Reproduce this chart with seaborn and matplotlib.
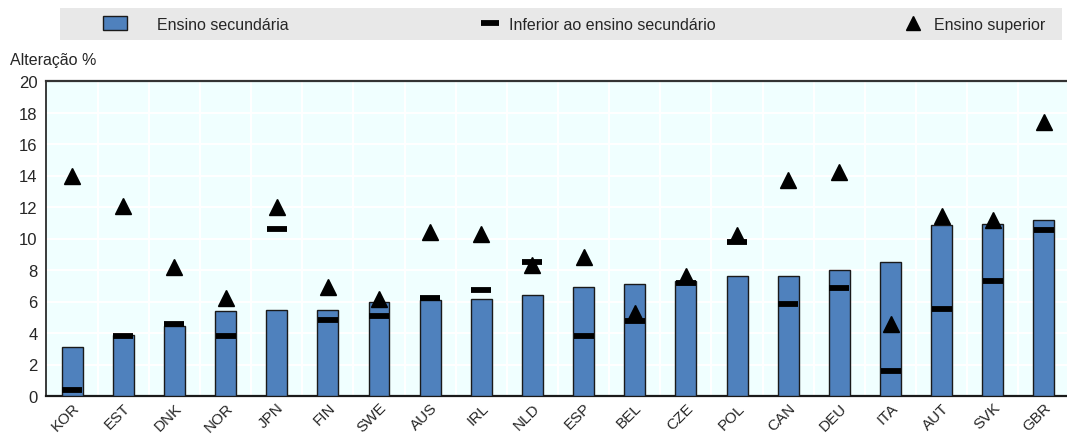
import numpy as np
import pandas as pd
import matplotlib
matplotlib.use("Agg")
import matplotlib.pyplot as plt
from matplotlib.patches import Rectangle, Patch
from matplotlib.lines import Line2D
import seaborn as sns

sns.set_theme(style="white")
plt.rcParams["font.family"] = ["Liberation Sans Narrow", "Liberation Sans", "DejaVu Sans"]

countries = ["KOR", "EST", "DNK", "NOR", "JPN", "FIN", "SWE", "AUS", "IRL", "NLD",
             "ESP", "BEL", "CZE", "POL", "CAN", "DEU", "ITA", "AUT", "SVK", "GBR"]
upper_secondary = [3.08, 3.88, 4.45, 5.37, 5.43, 5.45, 5.98, 6.1, 6.15, 6.42,
                   6.95, 7.1, 7.31, 7.59, 7.61, 7.99, 8.48, 10.87, 10.9, 11.15]
below_secondary = [0.36, 3.8, 4.6, 3.8, 10.6, 4.83, 5.05, 6.2, 6.7, 8.48,
                   3.84, 4.77, 7.2, 9.79, 5.87, 6.83, 1.57, 5.55, 7.33, 10.53]
tertiary = [14.0, 12.06, 8.2, 6.2, 12.0, 6.9, 6.15, 10.4, 10.3, 8.33,
            8.8, 5.3, 7.6, 10.2, 13.7, 14.2, 4.6, 11.44, 11.19, 17.4]

labels = ["Ensino secundária", "Inferior ao ensino secundário", "Ensino superior"]

df = pd.DataFrame({"pais": countries, "sec": upper_secondary,
                   "inf": below_secondary, "sup": tertiary})

W, H = 1067, 435
fig = plt.figure(figsize=(W / 100, H / 100), dpi=100)
ax = fig.add_axes([46 / W, 1 - 397 / H, (1067 - 46) / W, (397 - 82) / H])
ax.set_facecolor("#F0FFFF")

bar_color = "#4F81BD"
sns.barplot(data=df, x="pais", y="sec", ax=ax, color=bar_color, width=0.41,
            edgecolor="#1a1a1a", linewidth=1.0, saturation=1, zorder=3)

pos = np.arange(len(countries))
ax.plot(pos, df["inf"], linestyle="none", marker="_", markersize=14,
        markeredgewidth=4.2, color="black", zorder=4)
ax.plot(pos, df["sup"], linestyle="none", marker="^", markersize=11,
        color="black", zorder=5)

ax.set_xlim(-0.51, len(countries) - 1 + 0.45)
ax.set_ylim(0, 20)
ax.set_yticks(np.arange(0, 21, 2))
ax.set_xlabel("")
ax.set_ylabel("")

# white grid: horizontal at each y tick, vertical at category boundaries
ax.set_xticks(pos)
ax.set_xticklabels(countries, rotation=45, ha="right", rotation_mode="anchor")
ax.set_xticks(pos[:-1] + 0.5, minor=True)
for y in np.arange(2, 20, 2):
    ax.axhline(y, color="white", linewidth=1.5, zorder=1)
for xb in pos[:-1] + 0.5:
    ax.axvline(xb, color="white", linewidth=1.5, zorder=1)
ax.grid(False)

ax.tick_params(axis="x", which="major", length=0, labelsize=11, pad=3)
ax.tick_params(axis="x", which="minor", direction="in", length=4, width=1.2,
               color="#222222", bottom=True)
ax.tick_params(axis="y", length=0, labelsize=12, pad=6)

for side in ["left", "bottom", "top"]:
    ax.spines[side].set_visible(True)
    ax.spines[side].set_color("#1a1a1a")
ax.spines["left"].set_linewidth(1.2)
ax.spines["bottom"].set_linewidth(1.6)
ax.spines["top"].set_linewidth(1.6)
ax.spines["top"].set_color("#333333")
ax.spines["right"].set_visible(False)

fig.text(10 / W, 1 - 60 / H, "Alteração %", fontsize=11.5, va="center", ha="left")

# legend band with three entries spread across it
fig.patches.append(Rectangle((60 / W, 1 - 41 / H), 1002 / W, 32 / H,
                             transform=fig.transFigure, facecolor="#E8E8E8",
                             edgecolor="none", zorder=0))
handles = [
    Patch(facecolor=bar_color, edgecolor="#1a1a1a", linewidth=1.0),
    Line2D([], [], linestyle="none", marker="_", markersize=13,
           markeredgewidth=4.2, color="black"),
    Line2D([], [], linestyle="none", marker="^", markersize=10, color="black"),
]
fs = 11.5
em = fs * 100 / 72
specs = [(103, 24, 157), (476, 27, 509), (903, 20, 934)]
for h, lab, (x0, hl, tx) in zip(handles, labels, specs):
    fig.legend([h], [lab], loc="center left",
               bbox_to_anchor=(x0 / W, 1 - 25 / H), frameon=False,
               fontsize=fs, handlelength=hl / em, handleheight=0.9,
               handletextpad=(tx - x0 - hl) / em, borderpad=0,
               borderaxespad=0)

fig.savefig("out.png", dpi=100)
